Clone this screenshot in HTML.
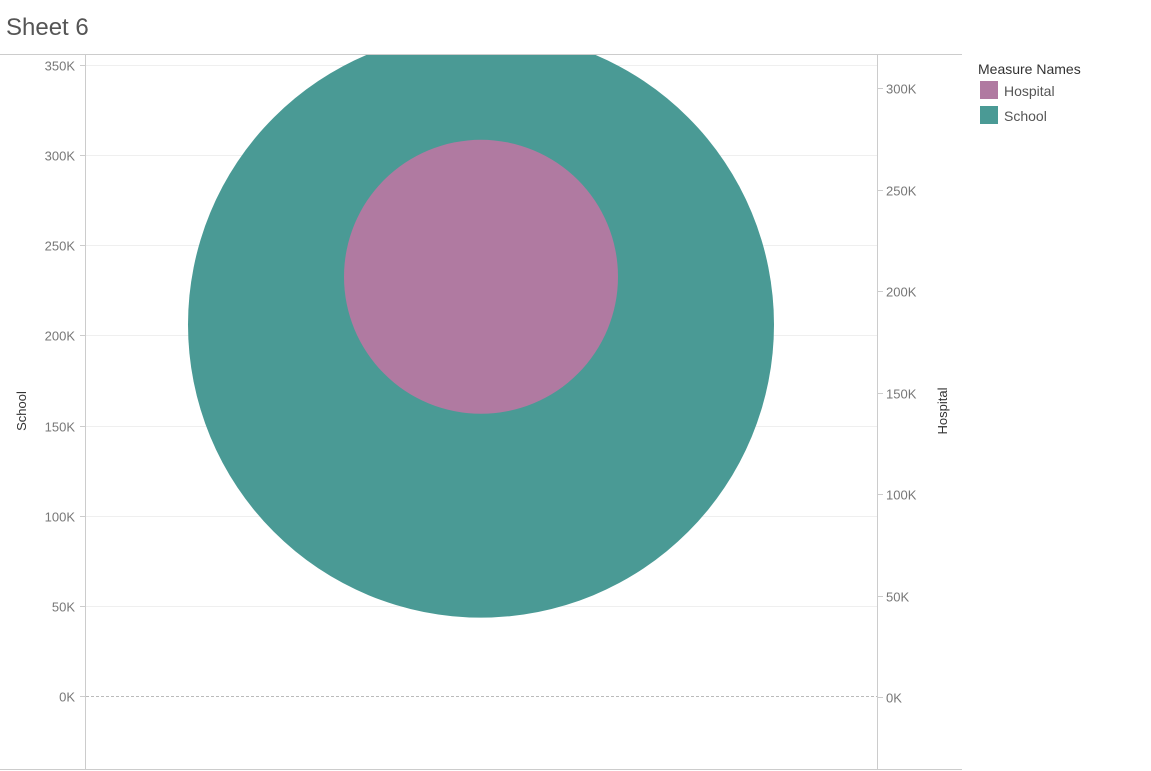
<!DOCTYPE html>
<html><head><meta charset="utf-8"><style>
body{margin:0;background:#fff;font-family:"Liberation Sans",sans-serif;}
svg{display:block}
</style></head><body>
<svg id="c" width="1151" height="771">
<defs><clipPath id="plotclip"><rect x="86" y="55" width="791" height="714"/></clipPath></defs>
<text x="6" y="35" font-size="24" fill="#555">Sheet 6</text>
<g id="grid"></g>
<line x1="0" y1="54.5" x2="962" y2="54.5" stroke="#ccc"/>
<line x1="0" y1="769.5" x2="962" y2="769.5" stroke="#ccc"/>
<line x1="85.5" y1="54" x2="85.5" y2="770" stroke="#ccc"/>
<line x1="877.5" y1="54" x2="877.5" y2="770" stroke="#ccc"/>
<g id="marks" clip-path="url(#plotclip)"></g>
<g id="axes"></g>
<text transform="translate(26,411) rotate(-90)" text-anchor="middle" font-size="13" fill="#333">School</text>
<text transform="translate(947,411) rotate(-90)" text-anchor="middle" font-size="13" fill="#333">Hospital</text>
<g>
<text x="978" y="74" font-size="14" fill="#333">Measure Names</text>
<rect x="980" y="81" width="18" height="18" fill="#b07aa1"/>
<text x="1004" y="96" font-size="14" fill="#555">Hospital</text>
<rect x="980" y="106" width="18" height="18" fill="#4a9a95"/>
<text x="1004" y="121" font-size="14" fill="#555">School</text>
</g>
</svg>
<script>
const leftTicks=[0,50000,100000,150000,200000,250000,300000,350000];
const rightTicks=[0,50000,100000,150000,200000,250000,300000];
const seriesNames=["School","Hospital"];
const seriesValues=[206000,207000];
const seriesRadius=[293,137];
const colors=["#4a9a95","#b07aa1"];
const NS="http://www.w3.org/2000/svg";
const yL=v=>696-v/50000*90.14;
const yR=v=>697-v/50000*101.5;
const cx=481;
function mk(tag,attrs,parent){const e=document.createElementNS(NS,tag);for(const k in attrs)e.setAttribute(k,attrs[k]);parent.appendChild(e);return e;}
const grid=document.getElementById('grid'),axes=document.getElementById('axes'),marks=document.getElementById('marks');
const fmt=v=>Math.round(v/1000)+"K";
leftTicks.forEach(v=>{
  const y=Math.round(yL(v))+0.5;
  const g=mk('line',{x1:86,x2:877,y1:y,y2:y,stroke:v===0?'#bbb':'#efefef','stroke-dasharray':v===0?'3,2':''},grid);
  
  
  const t=mk('line',{x1:80,x2:85,y1:y,y2:y,stroke:'#ccc'},axes);
  
  
  const l=mk('text',{x:75,y:y+5,'text-anchor':'end','font-size':13,fill:'#777'},axes);
  l.textContent=fmt(v);
  
  
});
rightTicks.forEach(v=>{
  const y=Math.round(yR(v))+0.5;
  const t=mk('line',{x1:878,x2:883,y1:y,y2:y,stroke:'#ccc'},axes);
  
  
  const l=mk('text',{x:886,y:y+5,'font-size':13,fill:'#777'},axes);
  l.textContent=fmt(v);
  
  
});
seriesNames.forEach((n,i)=>{
  const y=i===0?yL(seriesValues[i]):yR(seriesValues[i]);
  const c=mk('circle',{cx:cx,cy:y,r:seriesRadius[i],fill:colors[i]},marks);
  
  
});
</script>
</body></html>
